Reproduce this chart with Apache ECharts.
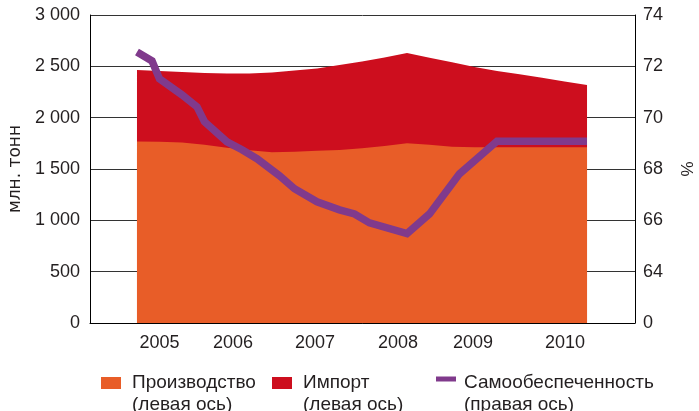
<!DOCTYPE html>
<html><head><meta charset="utf-8">
<script src="https://cdn.jsdelivr.net/npm/echarts@6/dist/echarts.min.js"></script>
<style>html,body{margin:0;padding:0;background:#fff}#c{width:699px;height:411px}</style>
</head><body><div id="c"></div>
<script>
// ---- data (x in years; fractional part = position within year) ----
const areaX = [2005, 2005.25, 2005.5, 2005.75, 2006, 2006.25, 2006.5, 2006.75, 2007, 2007.25, 2007.5,
  2007.75, 2008, 2008.25, 2008.5, 2008.75, 2009, 2009.25, 2009.5, 2009.75, 2010];
const production = [1767, 1766, 1759, 1735, 1706, 1682, 1664, 1667, 1677, 1686, 1701,
  1725, 1752, 1735, 1717, 1713, 1713, 1713, 1713, 1713, 1713];
const imports = [698, 689, 686, 701, 725, 749, 776, 793, 802, 827, 847,
  861, 878, 849, 822, 780, 742, 710, 676, 640, 606];
const selfX = [2005, 2005.167, 2005.25, 2005.5, 2005.667, 2005.75, 2006, 2006.167, 2006.333, 2006.583,
  2006.75, 2007, 2007.25, 2007.417, 2007.583, 2008, 2008.25, 2008.583, 2009, 2010];
const selfSufficiency = [72.56, 72.21, 71.51, 70.89, 70.42, 69.84, 69.06, 68.75, 68.40, 67.74,
  67.23, 66.72, 66.41, 66.25, 65.90, 65.48, 66.25, 67.81, 69.08, 69.08];
const yearLabels = ['2005', '2006', '2007', '2008', '2009', '2010'];
const leftTicks = [0, 500, 1000, 1500, 2000, 2500, 3000];
const rightTicks = ['0', '64', '66', '68', '70', '72', '74'];

// ---- layout ----
const yearLabelAt = [2005.25, 2006.067, 2006.978, 2007.9, 2008.733, 2009.756];
const FONT = '"Liberation Sans", Arial, sans-serif';
const TXT = '#231f20';

const zip = (xs, ys) => xs.map((x, i) => [x, ys[i]]);
const totalTop = production.map((p, i) => p + imports[i]); // stacked top of import band

const chart = echarts.init(document.getElementById('c'), null, {renderer: 'canvas'});
const legendText = (sp, padL) => ({
  fontFamily: FONT, fontSize: 19, color: TXT, lineHeight: 22,
  rich: {
    sp: {height: sp, lineHeight: sp, fontSize: 2},
    t: {fontFamily: FONT, fontSize: 19, color: TXT, lineHeight: 22, padding: [0, 0, 0, padL]}
  }
});
const legendFmt = (sub) => (n => '{sp| }\n{t|' + n + '}\n{t|' + sub + '}');
chart.setOption({
  animation: false,
  backgroundColor: '#fff',
  grid: {left: 90, right: 64, top: 15, bottom: 88, outerBoundsMode: 'none', containLabel: false},
  xAxis: {
    type: 'value', min: 2004.478, max: 2010.533,
    axisLine: {show: true, lineStyle: {color: '#000', width: 1}},
    axisTick: {show: false},
    splitLine: {show: false},
    axisLabel: {
      customValues: yearLabelAt, margin: 11,
      fontFamily: FONT, fontSize: 18, color: TXT,
      formatter: v => {
        let best = 0;
        yearLabelAt.forEach((p, i) => { if (Math.abs(p - v) < Math.abs(yearLabelAt[best] - v)) best = i; });
        return yearLabels[best];
      }
    }
  },
  yAxis: [{
    type: 'value', min: leftTicks[0], max: leftTicks[leftTicks.length - 1], interval: 500,
    name: 'млн. тонн', nameLocation: 'middle', nameGap: 65,
    nameTextStyle: {fontFamily: '"DejaVu Sans", sans-serif', fontSize: 17, color: TXT},
    axisLine: {show: true, lineStyle: {color: '#000', width: 1}},
    axisTick: {show: false},
    splitLine: {show: true, lineStyle: {color: '#333', width: 1}},
    axisLabel: {
      margin: 10, fontFamily: FONT, fontSize: 18, color: TXT,
      formatter: v => String(v).replace(/\B(?=(\d{3})+(?!\d))/g, ' ')
    }
  }, {
    type: 'value', min: 62, max: 74, interval: 2, position: 'right',
    name: '%', nameLocation: 'middle', nameGap: 45,
    nameTextStyle: {fontFamily: FONT, fontSize: 17, color: TXT},
    axisLine: {show: true, lineStyle: {color: '#000', width: 1}},
    axisTick: {show: false},
    splitLine: {show: false},
    axisLabel: {
      margin: 8, fontFamily: FONT, fontSize: 18, color: TXT,
      formatter: v => rightTicks[Math.round((v - 62) / 2)]
    }
  }],
  legend: [
    {data: ['Производство'], left: 101, top: 350, padding: 0, itemWidth: 20, itemHeight: 12, icon: 'rect',
      selectedMode: false, formatter: legendFmt('(левая ось)'), textStyle: legendText(22, 6)},
    {data: ['Импорт'], left: 272, top: 350, padding: 0, itemWidth: 20, itemHeight: 12, icon: 'rect',
      selectedMode: false, formatter: legendFmt('(левая ось)'), textStyle: legendText(22, 6)},
    {data: ['Самообеспеченность'], left: 436, top: 342, padding: 0, itemWidth: 20, itemHeight: 5, icon: 'rect',
      selectedMode: false, formatter: legendFmt('(правая ось)'), textStyle: legendText(30, 3)}
  ],
  series: [
    {name: 'Импорт', type: 'line', data: zip(areaX, totalTop),
      showSymbol: false, symbol: 'none', lineStyle: {width: 0}, color: '#cd0e1e',
      itemStyle: {color: '#cd0e1e'}, areaStyle: {color: '#cd0e1e', opacity: 1}},
    {name: 'Производство', type: 'line', data: zip(areaX, production),
      showSymbol: false, symbol: 'none', lineStyle: {width: 0}, color: '#e85d28',
      itemStyle: {color: '#e85d28'}, areaStyle: {color: '#e85d28', opacity: 1}},
    {name: 'Самообеспеченность', type: 'line', yAxisIndex: 1, data: zip(selfX, selfSufficiency),
      showSymbol: false, symbol: 'none', color: '#803a8c', itemStyle: {color: '#803a8c'},
      lineStyle: {width: 7.5, color: '#803a8c', join: 'miter'}}
  ]
});
</script></body></html>
